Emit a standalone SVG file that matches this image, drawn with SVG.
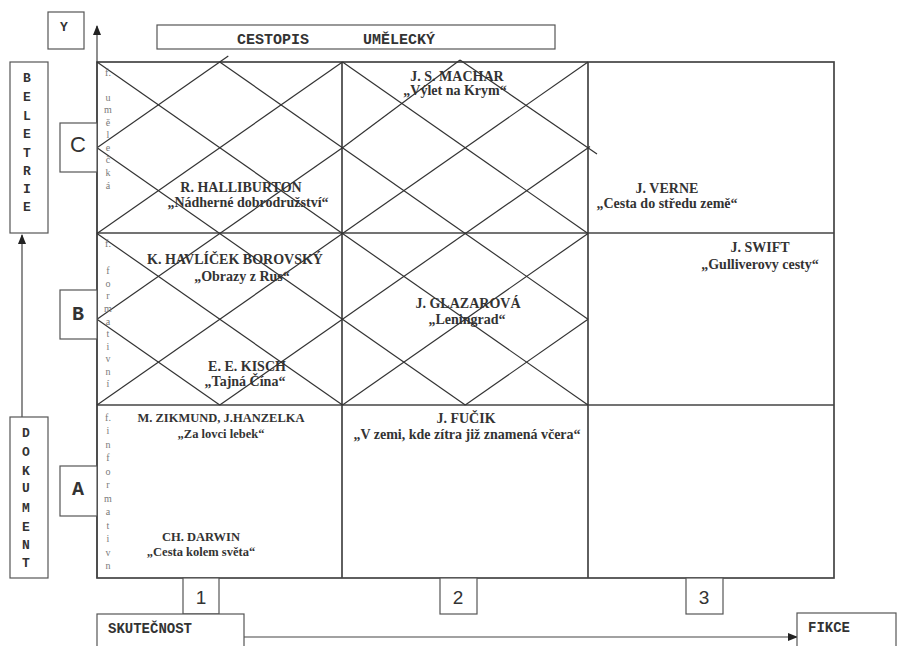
<svg xmlns="http://www.w3.org/2000/svg" width="907" height="646" viewBox="0 0 907 646">
<style>
.box{fill:#fff;stroke:#555;stroke-width:1.2}
.grid{stroke:#444;stroke-width:1.7;fill:none}
.hatch{stroke:#333;stroke-width:1.2;fill:none}
.axis{stroke:#444;stroke-width:1.2;fill:none}
.mono{font-family:"Liberation Mono","Courier New",monospace;font-weight:bold;fill:#333}
.sans{font-family:"Liberation Sans",Arial,sans-serif;fill:#333}
.ser{font-family:"Liberation Serif","Times New Roman",serif;font-weight:bold;font-size:14px;fill:#333;text-anchor:middle}
.sm{font-size:12.5px}
.vert{font-family:"Liberation Serif","Times New Roman",serif;font-size:10px;fill:#7a7a7a;text-anchor:middle}
</style>
<defs>
<marker id="ah" markerUnits="userSpaceOnUse" markerWidth="10" markerHeight="8" refX="9" refY="4" orient="auto">
<path d="M0,0 L10,4 L0,8 Z" fill="#222"/>
</marker>
</defs>

<g id="connectors">
<line class="axis" x1="97" y1="578" x2="97" y2="26" marker-end="url(#ah)"/>
<line class="axis" x1="22" y1="417" x2="22" y2="235" marker-end="url(#ah)"/>
<line class="axis" x1="244" y1="637" x2="797" y2="637" marker-end="url(#ah)"/>
</g>

<g id="grid">
<rect class="grid" x="97" y="62" width="737" height="516"/>
<line class="grid" x1="342" y1="62" x2="342" y2="578"/>
<line class="grid" x1="588" y1="62" x2="588" y2="578"/>
<line class="grid" x1="97" y1="233" x2="834" y2="233"/>
<line class="grid" x1="97" y1="405" x2="834" y2="405"/>
</g>

<g id="hatching">
<line class="hatch" x1="97" y1="62" x2="588" y2="405"/>
<line class="hatch" x1="97" y1="147.75" x2="465.25" y2="405"/>
<line class="hatch" x1="97" y1="233.5" x2="342.5" y2="405"/>
<line class="hatch" x1="97" y1="319.25" x2="219.75" y2="405"/>
<line class="hatch" x1="219.75" y1="62" x2="588" y2="319.25"/>
<line class="hatch" x1="342.5" y1="62" x2="588" y2="233.5"/>
<line class="hatch" x1="460" y1="60" x2="597" y2="154"/>
<line class="hatch" x1="97" y1="147.75" x2="228.3" y2="56"/>
<line class="hatch" x1="97" y1="233.5" x2="342.5" y2="62"/>
<line class="hatch" x1="97" y1="319.25" x2="342.5" y2="147.75"/>
<line class="hatch" x1="342.5" y1="147.75" x2="460" y2="60"/>
<line class="hatch" x1="97" y1="405" x2="588" y2="62"/>
<line class="hatch" x1="219.75" y1="405" x2="590" y2="146.4"/>
<line class="hatch" x1="342.5" y1="405" x2="588" y2="233.5"/>
<line class="hatch" x1="465.25" y1="405" x2="588" y2="319.25"/>
</g>

<g id="node-y">
<rect class="box" x="48" y="12" width="36" height="37"/>
<text class="mono" x="64" y="31" font-size="13" text-anchor="middle">Y</text>
</g>

<g id="node-title">
<rect class="box" x="157" y="25" width="398" height="24"/>
<text class="mono" y="44" font-size="15"><tspan x="237">CESTOPIS</tspan><tspan x="363">UMĚLECKÝ</tspan></text>
</g>

<g id="node-beletrie">
<rect class="box" x="10" y="62" width="38" height="171"/>
<text class="mono" font-size="13" text-anchor="middle">
<tspan x="27" y="82">B</tspan><tspan x="27" y="101">E</tspan><tspan x="27" y="120">L</tspan><tspan x="27" y="138">E</tspan><tspan x="27" y="157">T</tspan><tspan x="27" y="175">R</tspan><tspan x="27" y="193">I</tspan><tspan x="27" y="211">E</tspan>
</text>
</g>

<g id="node-dokument">
<rect class="box" x="10" y="417" width="38" height="161"/>
<text class="mono" font-size="13" text-anchor="middle">
<tspan x="26" y="437">D</tspan><tspan x="26" y="456">O</tspan><tspan x="26" y="475">K</tspan><tspan x="26" y="492">U</tspan><tspan x="26" y="512">M</tspan><tspan x="26" y="531">E</tspan><tspan x="26" y="549">N</tspan><tspan x="26" y="567">T</tspan>
</text>
</g>

<g id="node-c">
<rect class="box" x="60" y="123" width="37" height="49"/>
<text class="sans" x="78" y="152" font-size="22" text-anchor="middle">C</text>
</g>
<g id="node-b">
<rect class="box" x="60" y="290" width="37" height="49"/>
<text class="mono" x="78" y="320" font-size="20" text-anchor="middle">B</text>
</g>
<g id="node-a">
<rect class="box" x="60" y="466" width="37" height="50"/>
<text class="mono" x="78" y="495" font-size="20" text-anchor="middle">A</text>
</g>

<g id="node-1">
<rect class="box" x="183" y="578" width="36" height="36"/>
<text class="sans" x="201" y="604" font-size="19" text-anchor="middle">1</text>
</g>
<g id="node-2">
<rect class="box" x="440" y="578" width="37" height="36"/>
<text class="sans" x="458" y="604" font-size="19" text-anchor="middle">2</text>
</g>
<g id="node-3">
<rect class="box" x="686" y="578" width="37" height="36"/>
<text class="sans" x="704" y="604" font-size="19" text-anchor="middle">3</text>
</g>

<g id="node-skutecnost">
<rect class="box" x="97" y="614" width="147" height="40"/>
<text class="mono" x="108" y="633" font-size="14">SKUTEČNOST</text>
</g>
<g id="node-fikce">
<rect class="box" x="797" y="613" width="99" height="40"/>
<text class="mono" x="808" y="632" font-size="14">FIKCE</text>
</g>

<g id="label-umelecka">
<text class="vert"><tspan x="108" y="76">f.</tspan><tspan x="108" y="101">u</tspan><tspan x="108" y="113">m</tspan><tspan x="108" y="126">ě</tspan><tspan x="108" y="138">l</tspan><tspan x="108" y="151">e</tspan><tspan x="108" y="163">č</tspan><tspan x="108" y="176">k</tspan><tspan x="108" y="189">á</tspan></text>
</g>
<g id="label-formativni">
<text class="vert"><tspan x="108" y="247">f.</tspan><tspan x="108" y="274">f</tspan><tspan x="108" y="287">o</tspan><tspan x="108" y="299">r</tspan><tspan x="108" y="312">m</tspan><tspan x="108" y="325">a</tspan><tspan x="108" y="337">t</tspan><tspan x="108" y="350">i</tspan><tspan x="108" y="362">v</tspan><tspan x="108" y="375">n</tspan><tspan x="108" y="387">í</tspan></text>
</g>
<g id="label-informativn">
<text class="vert"><tspan x="108" y="421">f.</tspan><tspan x="108" y="434">i</tspan><tspan x="108" y="448">n</tspan><tspan x="108" y="461">f</tspan><tspan x="108" y="475">o</tspan><tspan x="108" y="488">r</tspan><tspan x="108" y="502">m</tspan><tspan x="108" y="515">a</tspan><tspan x="108" y="529">t</tspan><tspan x="108" y="542">i</tspan><tspan x="108" y="556">v</tspan><tspan x="108" y="569">n</tspan></text>
</g>

<g id="node-machar">
<text class="ser" x="457" y="81">J. S. MACHAR</text>
<text class="ser" x="455" y="95">„Výlet na Krym“</text>
</g>
<g id="node-halliburton">
<text class="ser" x="241" y="192">R. HALLIBURTON</text>
<text class="ser" x="248" y="207">„Nádherné dobrodružství“</text>
</g>
<g id="node-verne">
<text class="ser" x="667" y="193">J. VERNE</text>
<text class="ser" x="667" y="208">„Cesta do středu země“</text>
</g>
<g id="node-havlicek">
<text class="ser" x="235" y="264">K. HAVLÍČEK BOROVSKÝ</text>
<text class="ser" x="242" y="281">„Obrazy z Rus“</text>
</g>
<g id="node-swift">
<text class="ser" x="760" y="252">J. SWIFT</text>
<text class="ser" x="760" y="269">„Gulliverovy cesty“</text>
</g>
<g id="node-glazarova">
<text class="ser" x="468" y="308">J. GLAZAROVÁ</text>
<text class="ser" x="467" y="324">„Leningrad“</text>
</g>
<g id="node-kisch">
<text class="ser" x="247" y="371">E. E. KISCH</text>
<text class="ser" x="245" y="386">„Tajná Čína“</text>
</g>
<g id="node-zikmund">
<text class="ser sm" x="221" y="422">M. ZIKMUND, J.HANZELKA</text>
<text class="ser sm" x="221" y="438">„Za lovci lebek“</text>
</g>
<g id="node-fucik">
<text class="ser" x="466" y="423">J. FUČIK</text>
<text class="ser" x="467" y="439">„V zemi, kde zítra již znamená včera“</text>
</g>
<g id="node-darwin">
<text class="ser sm" x="201" y="541">CH. DARWIN</text>
<text class="ser sm" x="201" y="556">„Cesta kolem světa“</text>
</g>
</svg>
